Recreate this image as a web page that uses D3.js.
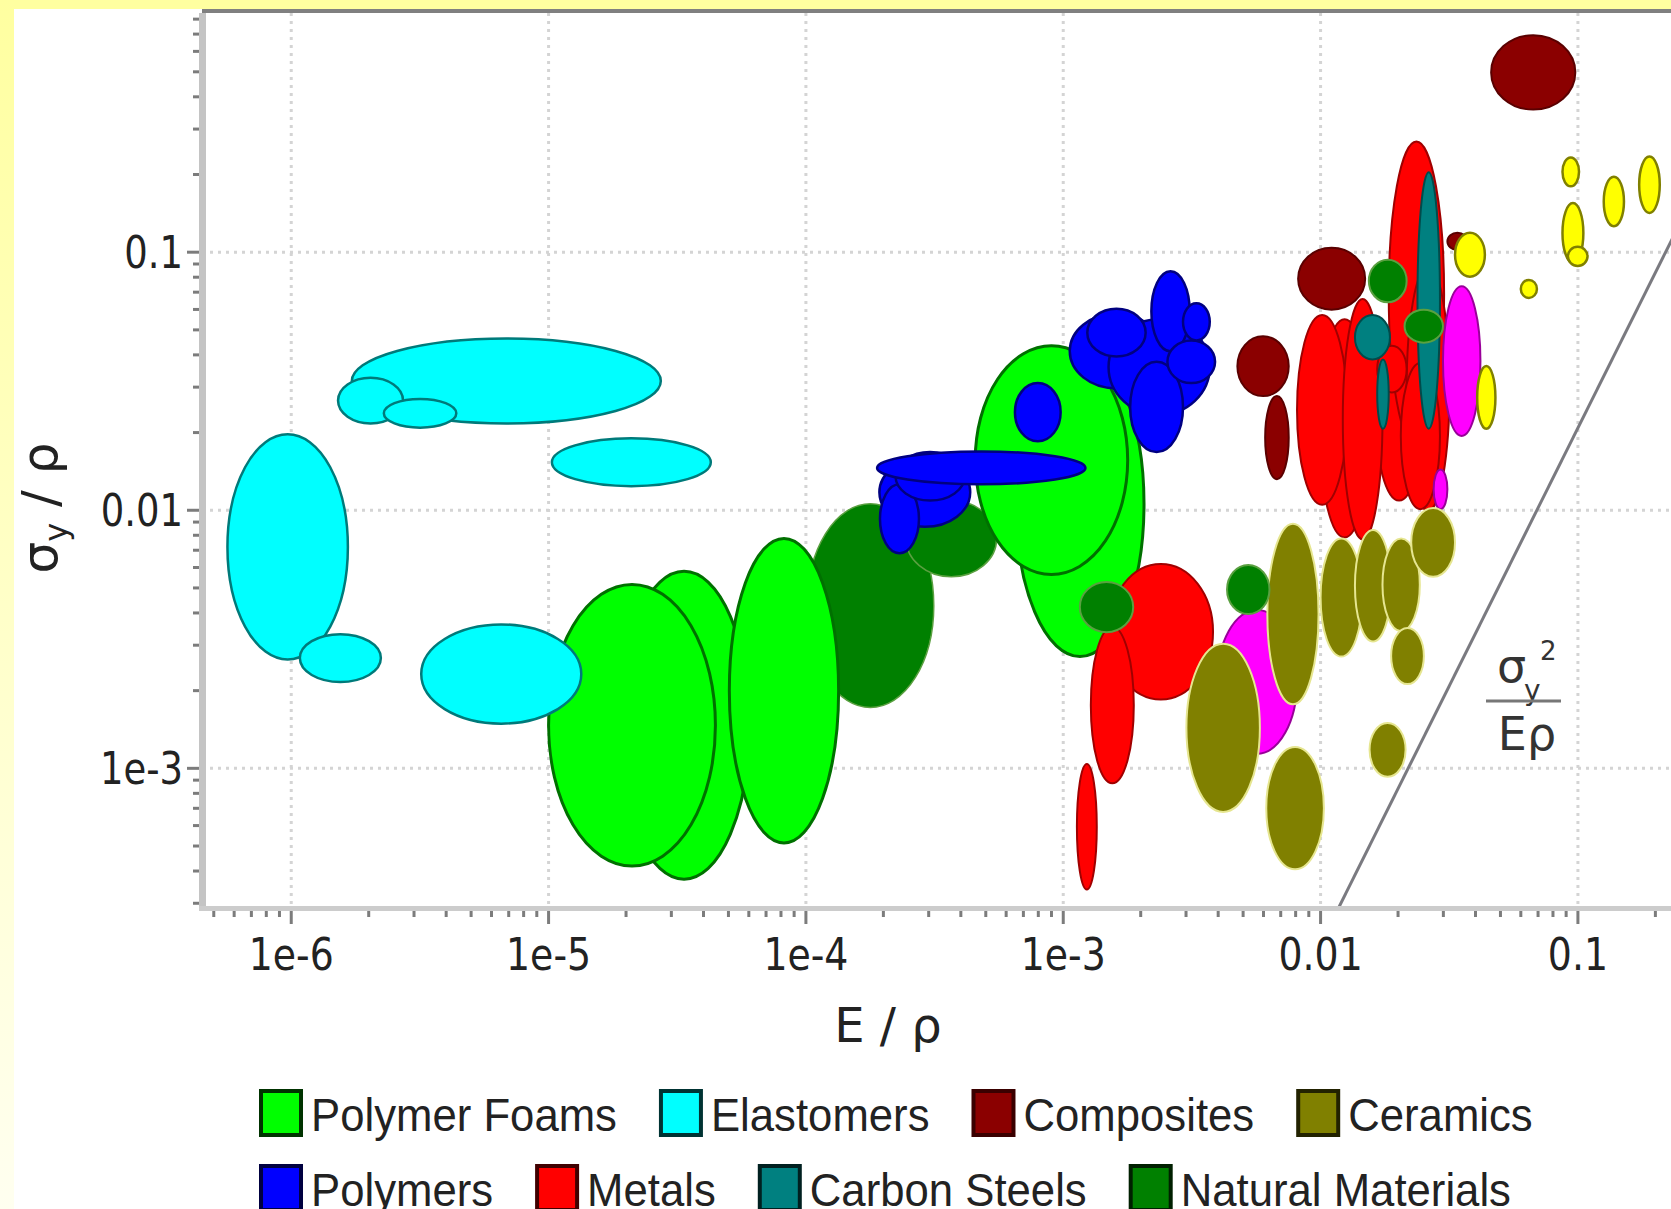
<!DOCTYPE html>
<html>
<meta charset="utf-8">
<script src="https://d3js.org/d3.v7.min.js"></script>
<style>
  body { margin: 0; background: #fff; }
  svg { display: block; }
</style>
<body>
<div id="vis"></div>
<script>
// each material region: [E/rho min, E/rho max, sy/rho min, sy/rho max]
var naturalLarge = [
  [1.01e-4, 3.14e-4, 1.72e-3, 0.0106],
  [2.45e-4, 5.51e-4, 5.52e-3, 0.0109]
];
var polymerFoams = [
  [1.87e-5, 6.04e-5, 3.72e-4, 5.80e-3],
  [1.00e-5, 4.45e-5, 4.18e-4, 5.16e-3],
  [5.04e-5, 1.34e-4, 5.14e-4, 7.78e-3],
  [6.55e-4, 2.06e-3, 2.71e-3, 0.0413],
  [4.55e-4, 1.78e-3, 5.64e-3, 0.0434]
];
var elastomers = [
  [1.72e-6, 2.73e-5, 0.0217, 0.0463],
  [1.52e-6, 2.72e-6, 0.0217, 0.0326],
  [2.29e-6, 4.38e-6, 0.0209, 0.0270],
  [1.03e-5, 4.27e-5, 0.0124, 0.0190],
  [5.65e-7, 1.66e-6, 2.64e-3, 0.0197],
  [1.08e-6, 2.23e-6, 2.16e-3, 3.31e-3],
  [3.20e-6, 1.34e-5, 1.49e-3, 3.61e-3]
];
var polymers = [
  [1.06e-3, 2.42e-3, 0.0297, 0.0577],
  [1.50e-3, 3.71e-3, 0.0234, 0.0550],
  [2.20e-3, 3.10e-3, 0.0413, 0.0843],
  [1.82e-3, 2.92e-3, 0.0168, 0.0376],
  [2.54e-3, 3.89e-3, 0.0311, 0.0455],
  [1.24e-3, 2.09e-3, 0.0394, 0.0604],
  [2.92e-3, 3.71e-3, 0.0455, 0.0634],
  [6.49e-4, 9.77e-4, 0.0185, 0.0311],
  [1.93e-4, 4.35e-4, 8.63e-3, 0.0160],
  [1.94e-4, 2.75e-4, 6.81e-3, 0.0126],
  [2.23e-4, 4.14e-4, 0.0109, 0.0168],
  [1.89e-4, 1.22e-3, 0.0126, 0.0169]
];
var composites = [
  [0.0460, 0.0977, 0.357, 0.693],
  [6.09e-3, 7.52e-3, 0.0132, 0.0277],
  [4.75e-3, 7.52e-3, 0.0277, 0.0472],
  [8.18e-3, 0.0149, 0.0599, 0.104],
  [0.0311, 0.0372, 0.102, 0.119]
];
var metals = [
  [9.91e-3, 0.0155, 7.85e-3, 0.0550],
  [0.0163, 0.0250, 0.0109, 0.0550],
  [8.10e-3, 0.0127, 0.0105, 0.0571],
  [0.0122, 0.0174, 7.71e-3, 0.0659],
  [0.0184, 0.0302, 0.0176, 0.2685],
  [0.0216, 0.0317, 9.95e-3, 0.0884],
  [0.0166, 0.0216, 0.0286, 0.0434],
  [0.0205, 0.0291, 0.0101, 0.0372],
  [1.50e-3, 3.82e-3, 1.85e-3, 6.19e-3],
  [1.28e-3, 1.88e-3, 8.75e-4, 3.53e-3],
  [1.13e-3, 1.35e-3, 3.39e-4, 1.04e-3]
];
var carbonSteels = [
  [0.0238, 0.0291, 0.0207, 0.204],
  [0.0166, 0.0184, 0.0207, 0.0384],
  [0.0136, 0.0186, 0.0384, 0.0571]
];
// two groups with no legend entry (legend is cut off in the source)
var groupMagenta = [
  [3.96e-3, 8.10e-3, 1.14e-3, 4.11e-3],
  [0.0299, 0.0418, 0.0194, 0.0738],
  [0.0275, 0.0311, 0.0101, 0.0144]
];
var ceramics = [
  [0.0100, 0.0145, 2.71e-3, 7.78e-3],
  [6.21e-3, 9.82e-3, 1.77e-3, 8.87e-3],
  [0.0136, 0.0188, 3.10e-3, 8.39e-3],
  [0.0174, 0.0243, 3.40e-3, 7.78e-3],
  [0.0225, 0.0333, 5.52e-3, 0.0102],
  [0.0188, 0.0252, 2.12e-3, 3.50e-3],
  [3.01e-3, 5.81e-3, 6.78e-4, 3.04e-3],
  [6.15e-3, 0.0103, 4.06e-4, 1.21e-3],
  [0.0155, 0.0214, 9.27e-4, 1.50e-3]
];
var groupYellow = [
  [0.0871, 0.101, 0.180, 0.233],
  [0.0871, 0.105, 0.0910, 0.155],
  [0.126, 0.151, 0.126, 0.196],
  [0.173, 0.208, 0.142, 0.235],
  [0.0333, 0.0435, 0.0804, 0.119],
  [0.0600, 0.0693, 0.0665, 0.0781],
  [0.0406, 0.0478, 0.0207, 0.0362],
  [0.0914, 0.109, 0.0884, 0.105]
];
var naturalSmall = [
  [1.16e-3, 1.87e-3, 3.37e-3, 5.27e-3],
  [4.33e-3, 6.33e-3, 3.96e-3, 6.14e-3],
  [0.0154, 0.0216, 0.0640, 0.0935],
  [0.0212, 0.0299, 0.0446, 0.0599]
];

// sy^2 / (E rho) guide line end points
var guideE = [0.0115, 0.24];
var guideS = [2.76e-4, 0.12];

var xTicks = [1e-6, 1e-5, 1e-4, 1e-3, 0.01, 0.1];
var xTickLabels = ["1e-6", "1e-5", "1e-4", "1e-3", "0.01", "0.1"];
var yTicks = [0.1, 0.01, 1e-3];
var yTickLabels = ["0.1", "0.01", "1e-3"];

var legendNames = ["Polymer Foams", "Elastomers", "Composites", "Ceramics",
                   "Polymers", "Metals", "Carbon Steels", "Natural Materials"];

var colors = {
  foam:    {fill: "#00ff00", stroke: "#007000"},
  elast:   {fill: "#00ffff", stroke: "#007a7a"},
  comp:    {fill: "#8b0000", stroke: "#5a0000"},
  ceram:   {fill: "#808000", stroke: "#e6e690"},
  poly:    {fill: "#0000ff", stroke: "#000080"},
  metal:   {fill: "#ff0000", stroke: "#a00000"},
  steel:   {fill: "#008080", stroke: "#004c4c"},
  natural: {fill: "#008000", stroke: "#5aa040"},
  magenta: {fill: "#ff00ff", stroke: "#990099"},
  yellow:  {fill: "#ffff00", stroke: "#808000"}
};
var legendKeys = ["foam", "elast", "comp", "ceram", "poly", "metal", "steel", "natural"];
var legendBorder = ["#003300", "#003333", "#3a0000", "#222200", "#000040", "#400000", "#002020", "#002000"];

var total_width = 1671, total_height = 1209;
var plot = {left: 202, top: 13, right: 1671, bottom: 911};

var svg = d3.select("#vis").append("svg")
  .attr("width", total_width)
  .attr("height", total_height);

var defs = svg.append("defs");
var grad = defs.append("linearGradient").attr("id", "edge")
  .attr("x1", 0).attr("y1", 0).attr("x2", 0).attr("y2", 1);
grad.append("stop").attr("offset", "0%").attr("stop-color", "#ffffa0");
grad.append("stop").attr("offset", "100%").attr("stop-color", "#fffff0");
defs.append("clipPath").attr("id", "plotclip").append("rect")
  .attr("x", plot.left).attr("y", plot.top)
  .attr("width", plot.right - plot.left).attr("height", plot.bottom - plot.top);

// page background
svg.append("rect").attr("width", total_width).attr("height", total_height).attr("fill", "#fff");
svg.append("rect").attr("width", total_width).attr("height", 9).attr("fill", "#ffffa0");
svg.append("rect").attr("width", 14).attr("height", total_height).attr("fill", "url(#edge)");

var x_scale = d3.scaleLog().domain([4.5e-7, 0.23]).range([plot.left, plot.right]);
var y_scale = d3.scaleLog().domain([2.8e-4, 0.845]).range([plot.bottom, plot.top]);

// dotted grid
var grid = svg.append("g").attr("clip-path", "url(#plotclip)");
grid.selectAll(".vg").data(xTicks).enter().append("line")
  .attr("x1", d => x_scale(d)).attr("x2", d => x_scale(d))
  .attr("y1", plot.top).attr("y2", plot.bottom)
  .attr("stroke", "#d4d4d4").attr("stroke-width", 3).attr("stroke-dasharray", "3,5");
grid.selectAll(".hg").data(yTicks).enter().append("line")
  .attr("y1", d => y_scale(d)).attr("y2", d => y_scale(d))
  .attr("x1", plot.left).attr("x2", plot.right)
  .attr("stroke", "#d4d4d4").attr("stroke-width", 3).attr("stroke-dasharray", "3,5");

var marks = svg.append("g").attr("clip-path", "url(#plotclip)");

function drawEllipses(data, c, sw) {
  marks.append("g").selectAll("ellipse")
    .data(data)
    .enter()
    .append("ellipse")
      .attr("cx", d => (x_scale(d[0]) + x_scale(d[1])) / 2)
      .attr("cy", d => (y_scale(d[2]) + y_scale(d[3])) / 2)
      .attr("rx", d => Math.abs(x_scale(d[1]) - x_scale(d[0])) / 2)
      .attr("ry", d => Math.abs(y_scale(d[3]) - y_scale(d[2])) / 2)
      .attr("fill", c.fill)
      .attr("stroke", c.stroke)
      .attr("stroke-width", sw);
}

drawEllipses(naturalLarge, colors.natural, 1.5);
drawEllipses(polymerFoams, colors.foam, 3);
drawEllipses(elastomers, colors.elast, 2.5);
drawEllipses(polymers, colors.poly, 2.5);
drawEllipses(composites, colors.comp, 2);
drawEllipses(metals, colors.metal, 2);
drawEllipses(carbonSteels, colors.steel, 2);
drawEllipses(groupMagenta, colors.magenta, 2);
drawEllipses(ceramics, colors.ceram, 2);
drawEllipses(groupYellow, colors.yellow, 2.5);
drawEllipses(naturalSmall, colors.natural, 2);

// guide line
marks.append("line")
  .attr("x1", x_scale(guideE[0])).attr("y1", y_scale(guideS[0]))
  .attr("x2", x_scale(guideE[1])).attr("y2", y_scale(guideS[1]))
  .attr("stroke", "#7a7a80").attr("stroke-width", 3);

// frame and axes
svg.append("rect").attr("x", plot.left).attr("y", 9).attr("width", plot.right - plot.left).attr("height", 4).attr("fill", "#808080");
svg.append("rect").attr("x", 199).attr("y", plot.top).attr("width", 7).attr("height", plot.bottom - plot.top).attr("fill", "#c4c4c4");
svg.append("rect").attr("x", 199).attr("y", 906).attr("width", plot.right - 199).attr("height", 5).attr("fill", "#cccccc");

var xMinor = x_scale.ticks().filter(d => d >= 4.5e-7 && d <= 0.23);
svg.append("g").selectAll("line").data(xMinor).enter().append("line")
  .attr("x1", d => x_scale(d)).attr("x2", d => x_scale(d))
  .attr("y1", 911)
  .attr("y2", d => xTicks.indexOf(d) >= 0 ? 924 : 917)
  .attr("stroke", "#7c7c7c").attr("stroke-width", 3);
var yMinor = y_scale.ticks().filter(d => d >= 2.8e-4 && d <= 0.845);
svg.append("g").selectAll("line").data(yMinor).enter().append("line")
  .attr("y1", d => y_scale(d)).attr("y2", d => y_scale(d))
  .attr("x1", 199)
  .attr("x2", d => yTicks.indexOf(d) >= 0 ? 187 : 193)
  .attr("stroke", "#7c7c7c").attr("stroke-width", 3);

function label(x, y, str, size, sx, anchor, family) {
  return svg.append("text")
    .attr("transform", "translate(" + x + "," + y + ") scale(" + sx + ",1)")
    .attr("text-anchor", anchor)
    .style("font-family", family)
    .style("font-size", size + "px")
    .style("fill", "#222")
    .text(str);
}

var dv = "'DejaVu Sans', Verdana, sans-serif";
xTicks.forEach(function(t, i) {
  label(x_scale(t), 970, xTickLabels[i], 44, 0.86, "middle", dv);
});
yTicks.forEach(function(t, i) {
  label(183, y_scale(t) + 16, yTickLabels[i], 44, 0.84, "end", dv);
});

// axis titles
label(888, 1042, "E / ρ", 48, 1, "middle", dv);
var yt = svg.append("text")
  .attr("transform", "translate(57,508) rotate(-90)")
  .attr("text-anchor", "middle")
  .style("font-family", dv).style("font-size", "50px").style("fill", "#222");
yt.append("tspan").text("σ");
yt.append("tspan").attr("dy", 10).style("font-size", "32px").text("y");
yt.append("tspan").attr("dy", -10).text(" / ρ");

// guide line annotation
var ann = svg.append("g").style("font-family", dv).style("fill", "#333");
ann.append("text").attr("x", 1497).attr("y", 682).style("font-size", "46px").text("σ");
ann.append("text").attr("x", 1524).attr("y", 700).style("font-size", "28px").text("y");
ann.append("text").attr("x", 1540).attr("y", 660).style("font-size", "26px").text("2");
ann.append("line").attr("x1", 1486).attr("x2", 1561).attr("y1", 701).attr("y2", 701)
  .attr("stroke", "#777").attr("stroke-width", 3);
ann.append("text").attr("x", 1527).attr("y", 750).attr("text-anchor", "middle").style("font-size", "46px").text("Eρ");

// legend, two rows laid out left to right
var lf = "'Liberation Sans', Arial, sans-serif";
var rowTop = [1089, 1164];
var sw = 44, sh = 48, gap = 42, lsx = 0.95;
[[0, 1, 2, 3], [4, 5, 6, 7]].forEach(function(row, r) {
  var cx = 259;
  row.forEach(function(i) {
    var c = colors[legendKeys[i]];
    svg.append("rect")
      .attr("x", cx + 2).attr("y", rowTop[r] + 2)
      .attr("width", sw - 4).attr("height", sh - 4)
      .attr("fill", c.fill).attr("stroke", legendBorder[i]).attr("stroke-width", 4);
    var t = label(cx + sw + 8, rowTop[r] + 42, legendNames[i], 46, lsx, "start", lf);
    cx += sw + 8 + t.node().getComputedTextLength() * lsx + gap;
  });
});
</script>
</body>
</html>
